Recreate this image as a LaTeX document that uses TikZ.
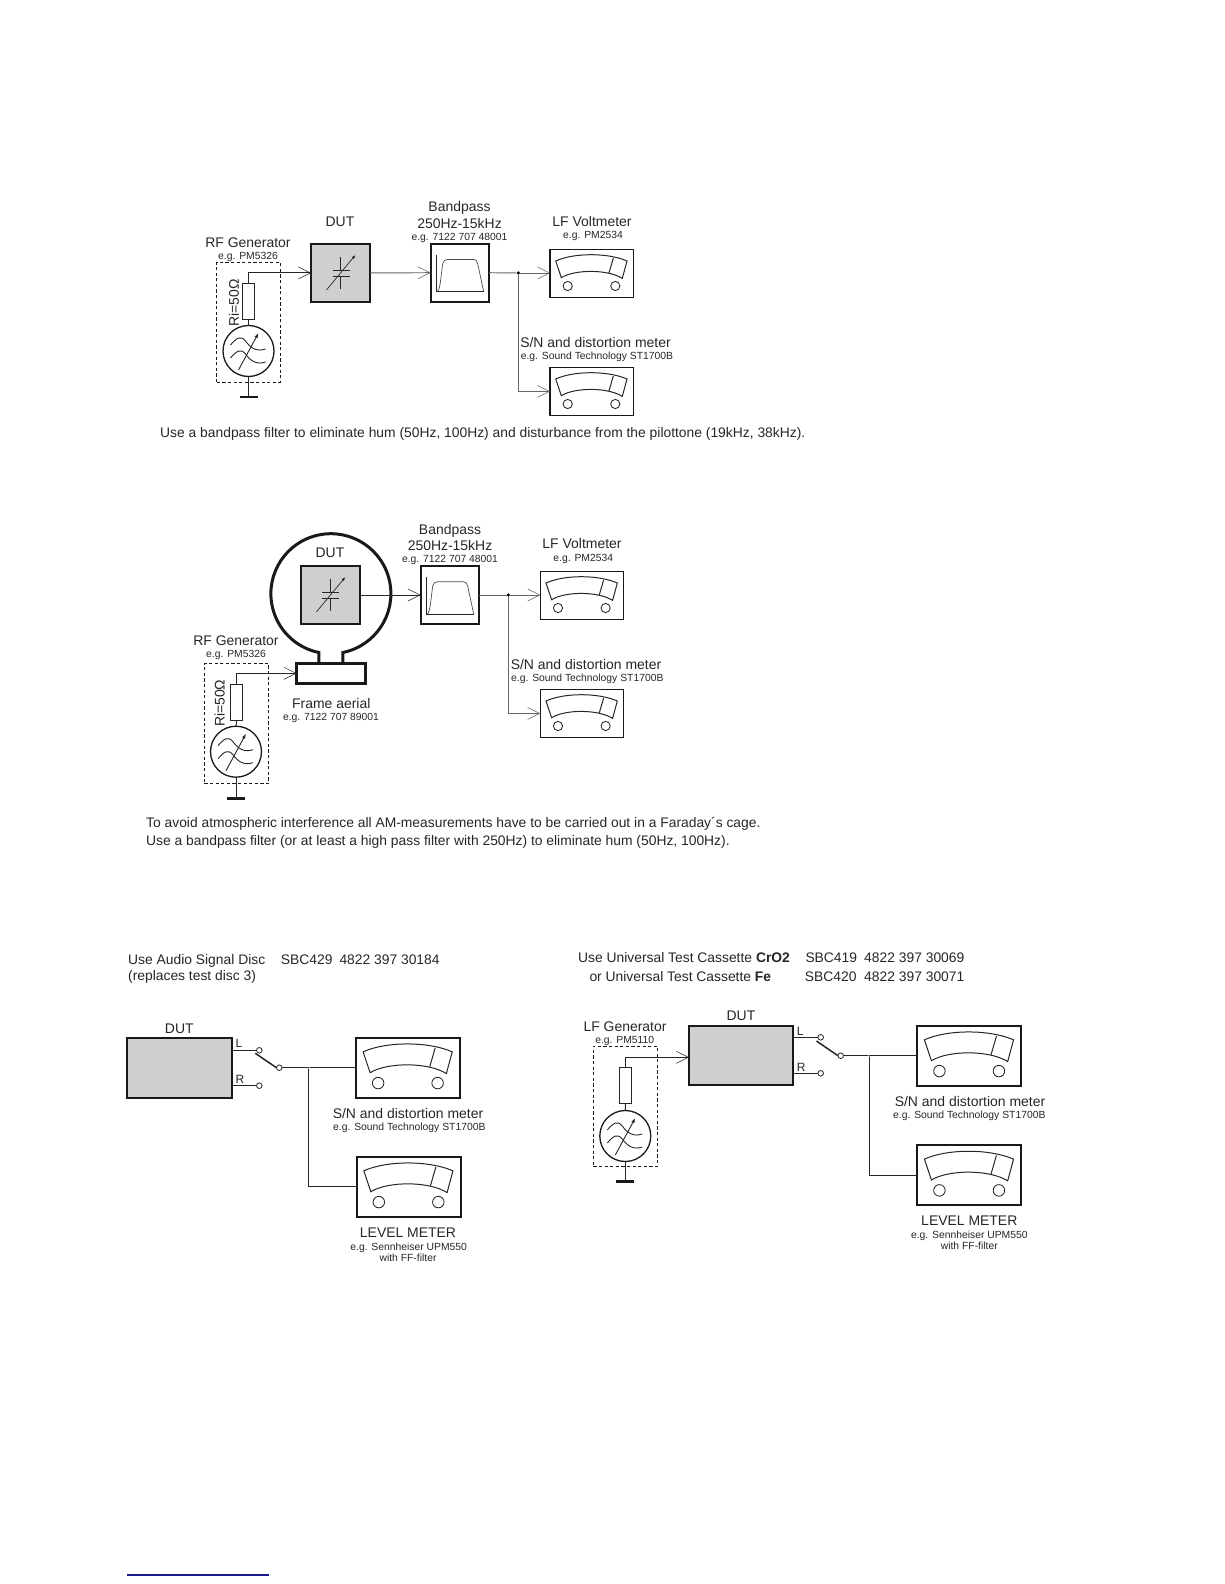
\documentclass[tikz,border=0pt]{standalone}
\usepackage{fontspec}
\setmainfont{Liberation Sans}
\usetikzlibrary{arrows.meta,calc}
\definecolor{linkblue}{HTML}{1A1A8C}
\tikzset{
  ink/.style={draw=black!85,line width=0.95pt},
  greyw/.style={draw=black!60,line width=0.95pt},
  openarrow/.style={-{Straight Barb[length=12pt,width=12pt,line width=0.55pt]}},
  boxed/.style={draw=black!90,line width=1.9pt,inner sep=0pt,outer sep=0pt,anchor=north west},
  dutbox/.style={boxed,fill=black!19},
  filterbox/.style={boxed,minimum width=58.5pt,minimum height=58pt},
  smallmeter/.style={draw=black!90,line width=1.3pt,inner sep=0pt,outer sep=0pt,anchor=north west,minimum width=83.5pt,minimum height=47.5pt},
  bigmeter/.style={boxed,minimum width=104pt,minimum height=60pt},
  res/.style={draw=black!85,line width=1pt,fill=white,inner sep=0pt,outer sep=0pt,minimum width=12pt,minimum height=36pt},
  term/.style={circle,draw=black!85,line width=0.8pt,fill=white,minimum size=5.6pt,inner sep=0pt,outer sep=0pt},
  gencirc/.style={circle,draw=black!90,line width=1.3pt,minimum size=51pt,inner sep=0pt,outer sep=0pt},
  jdot/.style={circle,fill=black,minimum size=3.6pt,inner sep=0pt,outer sep=0pt},
  tinydot/.style={circle,fill=black!85,minimum size=1.8pt,inner sep=0pt,outer sep=0pt},
  gbar/.style={fill=black!90,minimum width=18pt,minimum height=2.8pt,inner sep=0pt,outer sep=0pt},
  dashbox/.style={draw=black!90,line width=0.85pt,dash pattern=on 3.2pt off 2.4pt,inner sep=0pt,outer sep=0pt,anchor=north west},
  bigt/.style={font=\fontsize{13.95}{14}\selectfont,inner sep=0pt,text=black!85,anchor=base},
  smlt/.style={font=\fontsize{10.35}{11}\selectfont,inner sep=0pt,text=black!85,anchor=base},
  lrt/.style={font=\fontsize{12}{13}\selectfont,inner sep=0pt,text=black!85,anchor=base west},
  capt/.style={font=\fontsize{13.85}{14}\selectfont,inner sep=0pt,anchor=base west,text=black!85},
  meter/.pic={
    \draw[black!85,line width=1pt] (5.7,11.3) .. controls (24,2.9) and (58,2.9) .. (77,11.3) -- (72.3,28.7) .. controls (58,19.5) and (25,19.5) .. (11.3,28) -- cycle;
    \draw[black!85,line width=1pt] (63.3,8.3) -- (59,23.2);
    \draw[black!85,line width=0.85pt] (17.7,36.3) circle (4.6) (65.3,36.3) circle (4.6);
  },
  bandp/.pic={
    \draw[black!70,line width=0.7pt] (6,48) .. controls (8,48) and (9,44) .. (10,36) -- (12,20) .. controls (13,17) and (14,15.7) .. (17,15.7) -- (43,15.7) .. controls (45,15.7) and (46,17) .. (47,20) -- (53,48);
    \draw[black!85,line width=0.8pt] (6,11) -- (6,48) -- (53,48);
  },
  varcap/.pic={
    \draw[black!85,line width=0.7pt] (0,-16) -- (0,-3) (0,3) -- (0,16) (-8,-3) -- (9,-3) (-8,3) -- (9,3);
    \draw[black!85,line width=0.7pt,-{Latex[length=4pt,width=3pt]}] (-14,17) -- (15,-18);
  },
  genin/.pic={
    \draw[black!85,line width=0.9pt] (-18,-6) .. controls (-12,-13) and (-8,-16) .. (-3,-10) .. controls (2,-3) and (8,1) .. (17,-2);
    \draw[black!85,line width=0.9pt] (-18,7) .. controls (-12,0) and (-8,-3) .. (-3,3) .. controls (2,10) and (8,14) .. (17,11);
    \draw[black!85,line width=0.9pt,-{Latex[length=5pt,width=3.5pt]}] (-10,19) -- (10,-18);
  }
}
\begin{document}
\begin{tikzpicture}[x=1pt,y=-1pt]
\useasboundingbox (0,0) rectangle (1224,1584);
% ---------- diagram 1 ----------
\node[dashbox,minimum width=63.5pt,minimum height=120pt] (a-dash) at (216.7,262) {};
\node[gencirc] (a-gen) at (248.5,351) {};
\pic at (a-gen.center) {genin};
\node[res] (a-res) at (248.5,301) {};
\node[gbar] (a-gnd) at (248.5,397) {};
\draw[ink] (a-gen.north) -- (a-res.south);
\draw[ink] (a-gen.south) -- (a-gnd.north);
\node[dutbox,minimum width=59pt,minimum height=58.5pt] (a-dut) at (311,243.7) {};
\pic at (a-dut.center) {varcap};
\node[filterbox] (a-bp) at (430.7,243.7) {};
\pic at (a-bp.north west) {bandp};
\node[smallmeter] (a-m1) at (550,249.7) {};
\pic at (a-m1.north west) {meter};
\node[smallmeter] (a-m2) at (550,367.7) {};
\pic at (a-m2.north west) {meter};
\node[jdot] (a-j) at (518.3,273) {};
\draw[ink,openarrow] (a-res.north) |- (a-dut.west);
\draw[greyw,openarrow] (a-dut.east) -- (a-bp.west);
\draw[greyw] (a-bp.east) -- (a-j);
\draw[greyw,openarrow] (a-j) -- (a-m1.west |- a-j);
\draw[greyw,openarrow] (a-j) |- (a-m2.west);
\node[bigt] (a-t1) at (248,247) {RF Generator};
\node[smlt] (a-t2) at (248,259.5) {e.g. PM5326};
\node[bigt] (a-t3) at (340,226.3) {DUT};
\node[bigt] (a-t4) at (459.5,211.7) {Bandpass};
\node[bigt] (a-t5) at (459.5,228.7) {250Hz-15kHz};
\node[smlt] (a-t6) at (459.5,240.5) {e.g. 7122 707 48001};
\node[bigt,rotate=90] (a-t7) at (238.8,303) {Ri=50Ω};
\node[bigt] (a-t8) at (592,226.3) {LF Voltmeter};
\node[smlt] (a-t9) at (593,238.5) {e.g. PM2534};
\node[bigt] (a-t10) at (595.5,347.3) {S/N and distortion meter};
\node[smlt] (a-t11) at (597,359.5) {e.g. Sound Technology ST1700B};
\node[capt] (a-cap) at (160,437) {Use a bandpass filter to eliminate hum (50Hz, 100Hz) and disturbance from the pilottone (19kHz, 38kHz).};
% ---------- diagram 2 ----------
\node[dashbox,minimum width=64.5pt,minimum height=119.6pt] (b-dash) at (204.3,663.7) {};
\node[gencirc] (b-gen) at (236,751.7) {};
\pic at (b-gen.center) {genin};
\node[res] (b-res) at (236.7,702) {};
\node[gbar] (b-gnd) at (236,798.3) {};
\draw[ink] (b-gen.north) -- (b-res.south);
\draw[ink] (b-gen.south) -- (b-gnd.north);
\node[boxed,line width=3pt,minimum width=68.3pt,minimum height=20.7pt] (b-ar) at (296.7,663) {};
\draw[black!90,line width=3pt] ($(b-ar.north)+(12,0)$) -- ++(0,-10.5) arc[start angle=78.5,end angle=-258.5,radius=60] -- ($(b-ar.north)+(-12,0)$);
\node[dutbox,minimum width=59.3pt,minimum height=58.6pt] (b-dut) at (300.7,565.7) {};
\pic at (b-dut.center) {varcap};
\node[filterbox] (b-bp) at (420.7,566) {};
\pic at (b-bp.north west) {bandp};
\node[smallmeter] (b-m1) at (540.3,571.7) {};
\pic at (b-m1.north west) {meter};
\node[smallmeter] (b-m2) at (540.3,689.7) {};
\pic at (b-m2.north west) {meter};
\node[jdot] (b-j) at (508.3,595) {};
\draw[ink,openarrow] (b-res.north) |- (b-ar.west);
\draw[ink,openarrow] (b-dut.east) -- (b-bp.west);
\draw[greyw] (b-bp.east) -- (b-j);
\draw[greyw,openarrow] (b-j) -- (b-m1.west |- b-j);
\draw[greyw,openarrow] (b-j) |- (b-m2.west);
\node[bigt] (b-t1) at (236,645.3) {RF Generator};
\node[smlt] (b-t2) at (236,657) {e.g. PM5326};
\node[bigt] (b-t3) at (330,557) {DUT};
\node[bigt] (b-t4) at (450,534) {Bandpass};
\node[bigt] (b-t5) at (450,550.3) {250Hz-15kHz};
\node[smlt] (b-t6) at (450,562.3) {e.g. 7122 707 48001};
\node[bigt,rotate=90] (b-t7) at (224.6,703.3) {Ri=50Ω};
\node[bigt] (b-t8) at (331.3,708) {Frame aerial};
\node[smlt] (b-t9) at (331,720) {e.g. 7122 707 89001};
\node[bigt] (b-t10) at (582,548.6) {LF Voltmeter};
\node[smlt] (b-t11) at (583.3,561) {e.g. PM2534};
\node[bigt] (b-t12) at (586,669.3) {S/N and distortion meter};
\node[smlt] (b-t13) at (587.3,681) {e.g. Sound Technology ST1700B};
\node[capt] (b-cap1) at (146,827.5) {To avoid atmospheric interference all AM-measurements have to be carried out in a Faraday´s cage.};
\node[capt] (b-cap2) at (146,845) {Use a bandpass filter (or at least a high pass filter with 250Hz) to eliminate hum (50Hz, 100Hz).};
% ---------- diagram 3 ----------
\node[dutbox,minimum width=104.4pt,minimum height=60pt] (c-dut) at (127.3,1038) {};
\node[term] (c-tl) at (259.3,1050.3) {};
\node[term] (c-tr) at (259.3,1085.7) {};
\node[term] (c-pv) at (279.3,1067.7) {};
\coordinate (c-tip) at (255.3,1053.3);
\node[bigmeter] (c-m1) at (356,1037.7) {};
\pic[scale=1.25] at (c-m1.north west) {meter};
\node[bigmeter] (c-m2) at (356.7,1156.7) {};
\pic[scale=1.25] at (c-m2.north west) {meter};
\node[tinydot] (c-j) at (308.7,1067.7) {};
\draw[ink] (c-dut.east |- c-tl) -- (c-tl.west);
\draw[ink] (c-dut.east |- c-tr) -- (c-tr.west);
\draw[ink,line width=1.5pt] (c-pv.west) -- (c-tip);
\draw[ink] (c-pv.east) -- (c-j) -- (c-m1.west |- c-j);
\draw[ink] (c-j) |- (c-m2.west);
\node[bigt] (c-t1) at (179.3,1033) {DUT};
\node[lrt] (c-l) at (235.3,1047.5) {L};
\node[lrt] (c-r) at (235.3,1083.3) {R};
\node[bigt] (c-t2) at (408,1118.6) {S/N and distortion meter};
\node[smlt] (c-t3) at (409.3,1130.6) {e.g. Sound Technology ST1700B};
\node[bigt] (c-t4) at (408,1237.3) {LEVEL METER};
\node[smlt] (c-t5) at (408.7,1250) {e.g. Sennheiser UPM550};
\node[smlt] (c-t6) at (408,1261.7) {with FF-filter};
\node[capt] (c-h1) at (128,964) {Use Audio Signal Disc};
\node[capt] (c-h2) at (280.7,964) {SBC429};
\node[capt] (c-h3) at (339.3,964) {4822 397 30184};
\node[capt] (c-h4) at (128,980.5) {(replaces test disc 3)};
% ---------- diagram 4 ----------
\node[dashbox,minimum width=64.4pt,minimum height=119.7pt] (d-dash) at (593.3,1046.3) {};
\node[gencirc] (d-gen) at (625.3,1136) {};
\pic at (d-gen.center) {genin};
\node[res] (d-res) at (625.5,1085.3) {};
\node[gbar] (d-gnd) at (625.3,1181.3) {};
\draw[ink] (d-gen.north) -- (d-res.south);
\draw[ink] (d-gen.south) -- (d-gnd.north);
\node[dutbox,minimum width=104pt,minimum height=59.3pt] (d-dut) at (689,1025.7) {};
\coordinate (d-in) at (689,1057.3);
\node[term] (d-tl) at (820.7,1037.3) {};
\node[term] (d-tr) at (820.7,1073.3) {};
\node[term] (d-pv) at (840.7,1055.7) {};
\coordinate (d-tip) at (816.5,1041);
\node[bigmeter] (d-m1) at (917.3,1025.7) {};
\pic[scale=1.25] at (d-m1.north west) {meter};
\node[bigmeter] (d-m2) at (917.3,1145) {};
\pic[scale=1.25] at (d-m2.north west) {meter};
\node[tinydot] (d-j) at (869.3,1055.7) {};
\draw[ink,openarrow] (d-res.north) |- (d-in);
\draw[ink] (d-dut.east |- d-tl) -- (d-tl.west);
\draw[ink] (d-dut.east |- d-tr) -- (d-tr.west);
\draw[ink,line width=1.5pt] (d-pv.west) -- (d-tip);
\draw[ink] (d-pv.east) -- (d-j) -- (d-m1.west |- d-j);
\draw[ink] (d-j) |- (d-m2.west);
\node[bigt] (d-t1) at (625,1031.3) {LF Generator};
\node[smlt] (d-t2) at (624.7,1043) {e.g. PM5110};
\node[bigt] (d-t3) at (741,1020.6) {DUT};
\node[lrt] (d-l) at (796.7,1035.5) {L};
\node[lrt] (d-r) at (796.7,1071) {R};
\node[bigt] (d-t4) at (970,1106) {S/N and distortion meter};
\node[smlt] (d-t5) at (969.3,1118.3) {e.g. Sound Technology ST1700B};
\node[bigt] (d-t6) at (969.3,1225.3) {LEVEL METER};
\node[smlt] (d-t7) at (969.3,1238.3) {e.g. Sennheiser UPM550};
\node[smlt] (d-t8) at (969.3,1249.5) {with FF-filter};
\node[capt] (d-h1) at (578,962.7) {Use Universal Test Cassette \textbf{CrO2}};
\node[capt] (d-h2) at (805.3,962.7) {SBC419};
\node[capt] (d-h3) at (864,962.7) {4822 397 30069};
\node[capt] (d-h4) at (589.3,981.3) {or Universal Test Cassette \textbf{Fe}};
\node[capt] (d-h5) at (804.7,981.3) {SBC420};
\node[capt] (d-h6) at (864,981.3) {4822 397 30071};
% ---------- rule at the foot ----------
\coordinate (foot-l) at (127,1575);
\coordinate (foot-r) at (269,1575);
\draw[linkblue,line width=1.1pt] (foot-l) -- (foot-r);
\end{tikzpicture}
\end{document}
